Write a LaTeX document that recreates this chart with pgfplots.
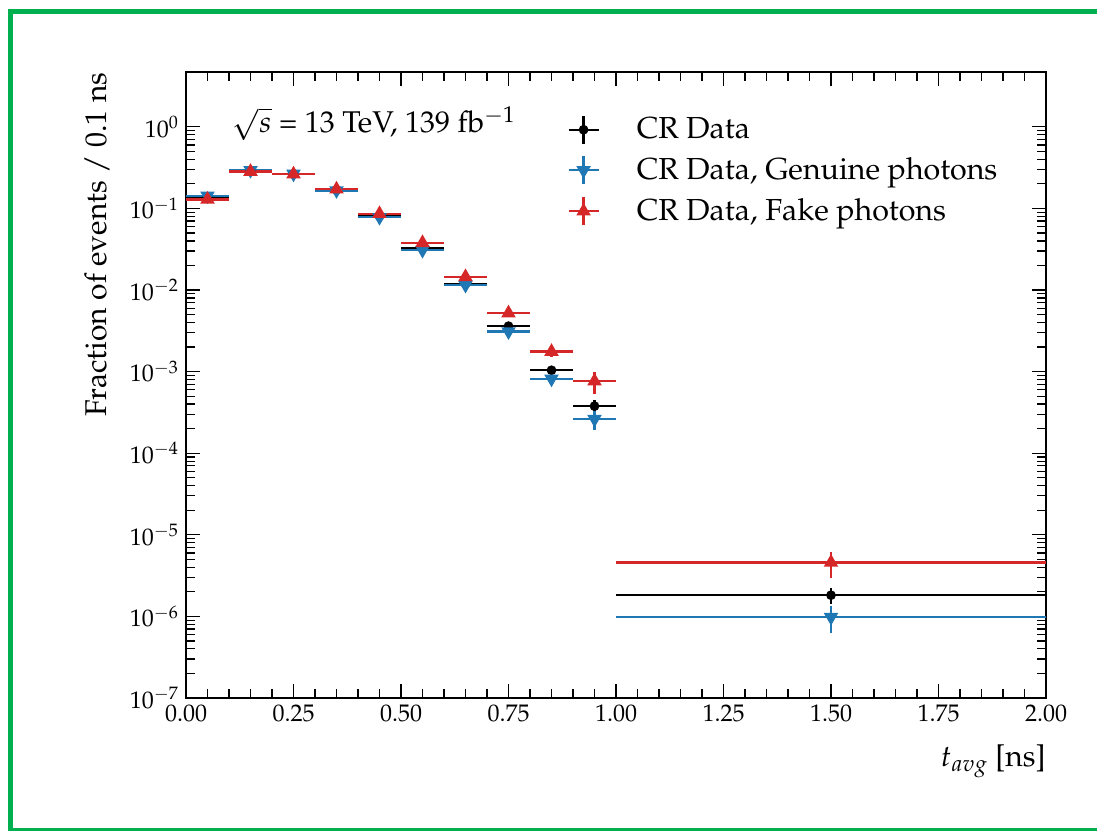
\documentclass[border=0pt]{standalone}
\usepackage[T1]{fontenc}
\usepackage{mathpazo}
\usepackage{pgfplots}
\usepackage{pgfplotstable}
\pgfplotsset{compat=1.18}

\definecolor{frameGreen}{RGB}{0,176,80}
\definecolor{tabblue}{RGB}{31,119,180}
\definecolor{tabred}{RGB}{214,39,40}

% columns: bin centre, fraction per 0.1 ns, half bin width, stat. uncertainty
\pgfplotstableread{
x     y        xe    ye
0.05  0.139    0.05  0.002
0.15  0.291    0.05  0.003
0.25  0.265    0.05  0.003
0.35  0.169    0.05  0.002
0.45  0.081    0.05  0.0012
0.55  0.0326   0.05  0.0006
0.65  0.0119   0.05  0.0003
0.75  0.00361  0.05  0.00015
0.85  0.00104  0.05  0.00008
0.95  0.000378 0.05  0.00007
1.5   1.82e-6  0.5   0.42e-6
}\crdata

\pgfplotstableread{
x     y        xe    ye
0.05  0.143    0.05  0.002
0.15  0.294    0.05  0.003
0.25  0.265    0.05  0.003
0.35  0.166    0.05  0.002
0.45  0.078    0.05  0.0012
0.55  0.0308   0.05  0.0006
0.65  0.0115   0.05  0.0003
0.75  0.00310  0.05  0.0002
0.85  0.000816 0.05  0.00006
0.95  0.000262 0.05  0.000068
1.5   0.98e-6  0.5   0.36e-6
}\crgenuine

\pgfplotstableread{
x     y        xe    ye
0.05  0.129    0.05  0.003
0.15  0.283    0.05  0.005
0.25  0.263    0.05  0.005
0.35  0.172    0.05  0.004
0.45  0.086    0.05  0.003
0.55  0.0379   0.05  0.0015
0.65  0.0145   0.05  0.0008
0.75  0.00521  0.05  0.0006
0.85  0.00176  0.05  0.00025
0.95  0.000765 0.05  0.00023
1.5   4.58e-6  0.5   1.6e-6
}\crfake

% legend entry: horizontal and vertical error bar with the marker on top
\pgfplotsset{
  errleg/.style={legend image code/.code={
      \draw[#1, line width=1.2pt] (0pt,0pt) -- (15pt,0pt);
      \draw[#1, line width=1.2pt] (7.5pt,-7pt) -- (7.5pt,7pt);
      \draw[##1] plot coordinates {(7.5pt,0pt)};
  }},
  binerr/.style={
    error bars/x dir=both, error bars/x explicit,
    error bars/y dir=both, error bars/y explicit,
    error bars/error mark=none,
    error bars/error bar style={line width=1.2pt, solid},
  },
}

\begin{document}
\begin{tikzpicture}
\useasboundingbox (0,0) rectangle (548.5pt,415pt);
\draw[frameGreen, line width=2.5pt] (600pt,409.1pt) -- (5.4pt,409.1pt) -- (5.4pt,-0.25pt) -- (600pt,-0.25pt);

\begin{axis}[
  at={(93pt,66pt)}, anchor=south west,
  width=430pt, height=313pt, scale only axis,
  font=\fontsize{15}{18}\selectfont,
  xmin=0, xmax=2,
  ymode=log, ymin=1e-7, ymax=4.7,
  xtick={0,0.25,...,2}, minor x tick num=4,
  ytick={1e-7,1e-6,1e-5,1e-4,1e-3,1e-2,1e-1,1},
  xticklabel style={/pgf/number format/.cd, fixed, fixed zerofill, precision=2},
  tick label style={font=\fontsize{12}{14}\selectfont},
  tick align=inside, xtick pos=both, ytick pos=both,
  major tick length=7pt, minor tick length=4.5pt,
  every tick/.style={black, line width=0.6pt},
  axis line style={line width=1pt},
  xlabel={$t_{avg}$ [ns]},
  ylabel={Fraction of events / 0.1 ns},
  xlabel style={at={(axis description cs:1,-0.110)}, anchor=base east, inner sep=0pt},
  ylabel style={at={(axis description cs:-0.1035,1)}, anchor=east, inner sep=0pt},
  legend cell align=left,
  legend style={at={(rel axis cs:0.443,0.934)}, anchor=north west, draw=none, fill=none,
    font=\fontsize{15.2}{18}\selectfont, row sep=4pt, column sep=16.5pt, inner sep=0pt},
]
\addplot[black, only marks, line width=1.2pt, mark=*, mark size=1.8pt, binerr, errleg=black]
  table[x=x, y=y, x error=xe, y error=ye] {\crdata};
\addlegendentry{CR Data}
\addplot[tabblue, only marks, line width=1.2pt, mark=triangle*, mark size=3pt, mark options={rotate=180}, binerr, errleg=tabblue]
  table[x=x, y=y, x error=xe, y error=ye] {\crgenuine};
\addlegendentry{CR Data, Genuine photons}
\addplot[tabred, only marks, line width=1.2pt, mark=triangle*, mark size=3pt, binerr, errleg=tabred]
  table[x=x, y=y, x error=xe, y error=ye] {\crfake};
\addlegendentry{CR Data, Fake photons}

\node[anchor=base west, inner sep=0pt] at (rel axis cs:0.0535,0.9026)
  {$\sqrt{s}$ = 13 TeV, 139 fb$^{-1}$};
\end{axis}
\end{tikzpicture}
\end{document}
